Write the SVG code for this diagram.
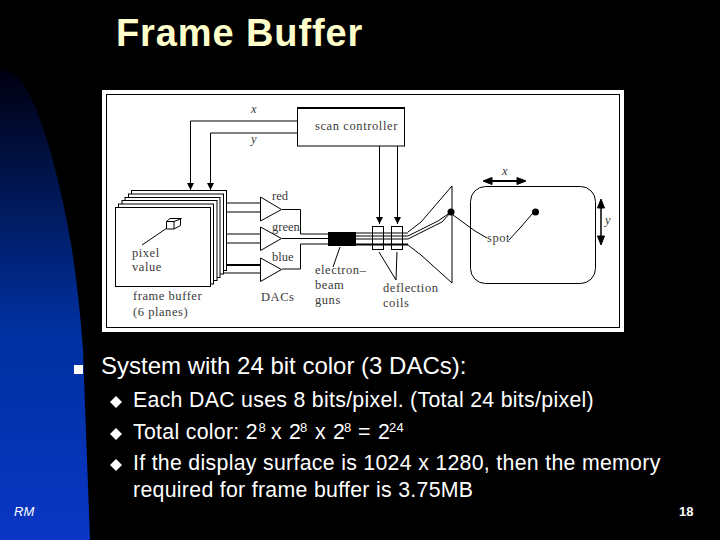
<svg xmlns="http://www.w3.org/2000/svg" width="720" height="540" viewBox="0 0 720 540">
<style>
.b{font-family:"Liberation Sans",Arial,sans-serif;fill:#fff;font-size:21.3px;letter-spacing:.3px}
.s{font-size:13px}
.d{font-family:"Liberation Serif","Times New Roman",serif;fill:#3a3a3a;font-size:12.5px;letter-spacing:.55px}
.l{fill:none;stroke:#000;stroke-width:1}
.p{fill:#fff;stroke:#000;stroke-width:1}
</style>
<defs>
<linearGradient id="g" x1="0" y1="0" x2="0" y2="1"><stop offset="0" stop-color="#000010"/><stop offset=".55" stop-color="#0030a0"/><stop offset="1" stop-color="#0a36c4"/></linearGradient>
<marker id="a" markerUnits="userSpaceOnUse" markerWidth="8" markerHeight="8" refX="7" refY="4" orient="auto"><path d="M0 .5L7 4L0 7.500Z"/></marker>
</defs>
<rect width="720" height="540" fill="#000"/>
<path id="swoosh" d="M0 70Q14 72 23 83Q38 108 50 150Q64 200 72 250Q79 295 83 350L90 540H0Z" fill="url(#g)"/>
<text id="title" x="116" y="46" font-family="Liberation Sans,Arial,sans-serif" font-weight="700" font-size="38" letter-spacing=".9" fill="#ffffcc">Frame Buffer</text>
<g id="figure">
<rect x="102" y="90" width="522" height="242" fill="#fff"/>
<rect x="106.500" y="94.500" width="513" height="233" class="l"/>
</g>
<g id="connectors" class="l">
<path d="M297 121H190.500V190" marker-end="url(#a)"/>
<path d="M297 133H210.500V190" marker-end="url(#a)"/>
<path d="M379.500 146V224" marker-end="url(#a)"/>
<path d="M397.500 146V224" marker-end="url(#a)"/>
<path d="M226 203H260M226 212H260M221 234H260M221 243H260M214 273H260"/>
<path d="M214 265H260" stroke-width="2"/>
<path d="M282 209.500H300.500V234H328M282 238.500H328M282 269H300.500V244H328"/>
<path d="M356 233H408M356 236H408M356 239H408"/>
<path d="M356 244.500H408" stroke-width="2"/>
<path d="M408 232L421 222L452 186M408 236L438 221L451 212M408 239L442 222L451 212M408 245L421 255L452 283V186"/>
<path d="M453 215L475 231L487 238M509 240L520 228L533 213"/>
<path d="M484 181H525" stroke-width="2"/>
<path d="M601 201V243" stroke-width="1.500"/>
<path d="M340 247L333 267M379 252L396 280L397 252"/>
<path d="M483 181l9-3.500v7zM526 181l-9-3.500v7zM601 199l-3.500 9h7zM601 245l-3.500-9h7z" fill="#000"/>
</g>
<g id="scan-controller"><rect x="297.500" y="108" width="107" height="38" class="p"/><path d="M297 108H405" stroke="#000" stroke-width="2"/><text class="d" x="315" y="130" style="letter-spacing:.6px">scan controller</text></g>
<g id="frame-buffer">
<rect x="131.500" y="190.500" width="95" height="80" class="p"/>
<rect x="128.500" y="194" width="95" height="80" class="p"/>
<rect x="125" y="197.500" width="95" height="80" class="p"/>
<rect x="122" y="200.500" width="95" height="80" class="p"/>
<rect x="118.500" y="204" width="95" height="80" class="p"/>
<rect x="115.500" y="207.500" width="95" height="79" class="p"/>
<path d="M166.500 229V221.500H174V229ZM166.500 221.500L170 218.500H181.500L174 221.500M174 229L180.500 225.500V218.500M167 228L142 245" class="l"/>
<text class="d" x="132" y="257">pixel</text><text class="d" x="132" y="271">value</text>
<text class="d" x="133" y="300">frame buffer</text><text class="d" x="133" y="316">(6 planes)</text>
</g>
<g id="dacs">
<path class="p" d="M260.500 197L281.500 209.500L260.500 221ZM260.500 227L281.500 238.500L260.500 250.500ZM260.500 258L281.500 269.500L260.500 281.500Z"/>
<text class="d" x="272" y="200" style="letter-spacing:0">red</text><text class="d" x="272" y="231" style="letter-spacing:0">green</text><text class="d" x="272" y="261" style="letter-spacing:0">blue</text><text class="d" x="261" y="301">DACs</text>
</g>
<g id="guns"><rect x="328" y="232" width="28" height="14" fill="#000"/><text class="d" x="315" y="274">electron–</text><text class="d" x="315" y="289">beam</text><text class="d" x="315" y="304">guns</text></g>
<g id="coils"><rect x="372.500" y="226.500" width="11" height="23" class="l"/><rect x="391.500" y="226.500" width="11" height="23" class="l"/><text class="d" x="383" y="292">deflection</text><text class="d" x="383" y="307">coils</text></g>
<g id="screen"><rect x="470.500" y="186.500" width="125" height="97" rx="15" class="l"/><circle cx="451" cy="212" r="3.500"/><circle cx="535.500" cy="212" r="3.500"/><text class="d" x="487" y="242">spot</text></g>
<g id="labels" font-style="italic"><text class="d" x="251" y="113">x</text><text class="d" x="251" y="143">y</text><text class="d" x="502" y="175">x</text><text class="d" x="605" y="224">y</text></g>
<g id="body">
<rect x="74" y="365" width="9" height="9" fill="#fff"/>
<text class="b" x="101" y="374" style="font-size:24px;letter-spacing:0">System with 24 bit color (3 DACs):</text>
<path d="M110 402l6-6 6 6-6 6z" fill="#fff"/><path d="M110 434l6-6 6 6-6 6z" fill="#fff"/><path d="M110 465l6-6 6 6-6 6z" fill="#fff"/>
<text class="b" x="133" y="407">Each DAC uses 8 bits/pixel. (Total 24 bits/pixel)</text>
<text class="b" x="133" y="439">Total color: 2</text>
<text class="b s" x="258.500" y="432">8</text><text class="b" x="271" y="439">x</text><text class="b" x="289" y="439">2</text><text class="b s" x="300" y="432">8</text><text class="b" x="315" y="439">x</text><text class="b" x="333" y="439">2</text><text class="b s" x="344" y="432">8</text><text class="b" x="358" y="439">=</text><text class="b" x="378" y="439">2</text><text class="b s" x="389" y="432">24</text>
<text class="b" x="133" y="470">If the display surface is 1024 x 1280, then the memory</text>
<text class="b" x="133" y="497">required for frame buffer is 3.75MB</text>
<text x="14" y="516" font-family="Liberation Sans,sans-serif" font-style="italic" font-size="13" fill="#fff">RM</text>
<text x="679" y="516" font-family="Liberation Sans,sans-serif" font-weight="700" font-size="13" fill="#fff">18</text>
</g>
</svg>
